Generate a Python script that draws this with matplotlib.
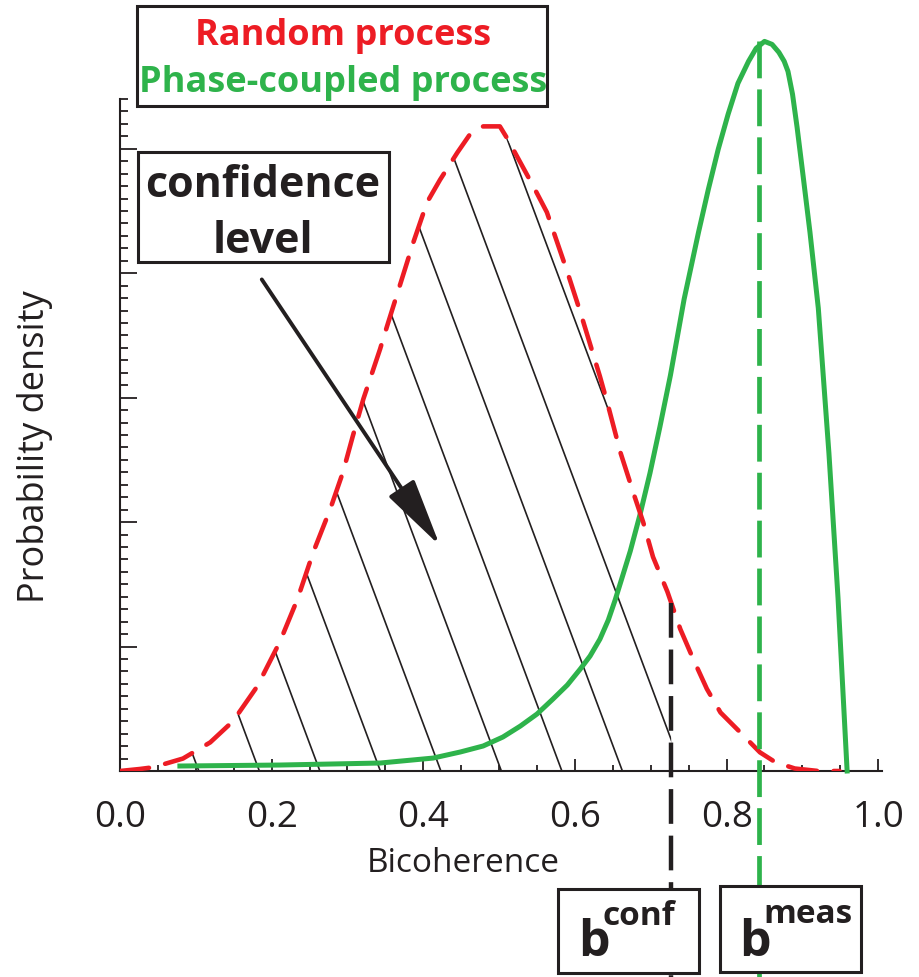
import numpy as np
import matplotlib
matplotlib.use('Agg')
import matplotlib.pyplot as plt
from matplotlib.patches import Rectangle, Polygon
from matplotlib.ticker import MultipleLocator

# bicoherence / probability density
random_b = [0.0, 0.026, 0.044, 0.083, 0.119, 0.149, 0.181, 0.211, 0.234, 0.255,
            0.277, 0.294, 0.307, 0.321, 0.343, 0.352, 0.369, 0.387, 0.405, 0.422,
            0.445, 0.462, 0.479, 0.501, 0.511, 0.528, 0.545, 0.563, 0.590, 0.607,
            0.633, 0.644, 0.660, 0.679, 0.690, 0.703, 0.722, 0.739, 0.756, 0.774,
            0.792, 0.819, 0.844, 0.864, 0.890, 0.921, 0.949]
random_pdf = [0.0, 0.016, 0.03, 0.10, 0.23, 0.40, 0.68, 1.04, 1.38, 1.76,
              2.10, 2.40, 2.69, 2.99, 3.39, 3.57, 3.90, 4.25, 4.57, 4.75,
              4.97, 5.12, 5.18, 5.18, 5.08, 4.89, 4.70, 4.49, 4.01, 3.69,
              3.17, 2.93, 2.56, 2.20, 2.00, 1.72, 1.44, 1.14, 0.90, 0.66,
              0.47, 0.305, 0.15, 0.072, 0.02, 0.0, 0.0]

# same for the phase-coupled process
coupled_b = [0.079, 0.211, 0.343, 0.413, 0.449, 0.479, 0.505, 0.528, 0.550, 0.571,
             0.590, 0.607, 0.620, 0.633, 0.644, 0.653, 0.662, 0.673, 0.686, 0.699,
             0.712, 0.726, 0.744, 0.763, 0.776, 0.789, 0.802, 0.815, 0.829, 0.839,
             0.850, 0.860, 0.869, 0.876, 0.881, 0.887, 0.893, 0.901, 0.910, 0.921,
             0.935, 0.947, 0.959]
coupled_pdf = [0.04, 0.048, 0.064, 0.104, 0.153, 0.201, 0.273, 0.361, 0.458, 0.578,
               0.691, 0.819, 0.924, 1.060, 1.213, 1.373, 1.550, 1.767, 2.064, 2.394,
               2.763, 3.181, 3.791, 4.329, 4.675, 4.996, 5.277, 5.526, 5.703, 5.807,
               5.863, 5.839, 5.775, 5.703, 5.622, 5.438, 5.173, 4.779, 4.329, 3.719,
               2.554, 1.390, 0.0]

b_conf = 0.727
b_meas = 0.843

xtick_values = [0.0, 0.2, 0.4, 0.6, 0.8, 1.0]
xtick_labels = ['0.0', '0.2', '0.4', '0.6', '0.8', '1.0']

RED = '#ED1C24'
GREEN = '#2EB34B'
INK = '#231F20'
W, H = 919, 978

plt.rcParams['font.family'] = ['Open Sans', 'DejaVu Sans']
plt.rcParams['lines.scale_dashes'] = False

fig = plt.figure(figsize=(W / 100, H / 100), dpi=100)
ax = fig.add_axes([120 / W, 206 / H, 762 / W, 672 / H])
ax.set_xlim(0, 1.005)
ax.set_ylim(0, 5.4)

for side in ['top', 'right']:
    ax.spines[side].set_visible(False)
for side in ['left', 'bottom']:
    ax.spines[side].set_linewidth(1.5)
    ax.spines[side].set_color(INK)

ax.set_xticks(xtick_values)
ax.set_xticklabels(xtick_labels)
ax.xaxis.set_minor_locator(MultipleLocator(0.05))
ax.yaxis.set_major_locator(MultipleLocator(1))
ax.yaxis.set_minor_locator(MultipleLocator(0.1))
ax.tick_params(axis='x', which='major', direction='in', length=9, width=1.3,
               pad=20, labelsize=26.5, color=INK, labelcolor=INK)
ax.tick_params(axis='x', which='minor', direction='in', length=4.5, width=1.3, color=INK)
ax.tick_params(axis='y', which='major', direction='in', length=12, width=1.3,
               labelleft=False, color=INK)
ax.tick_params(axis='y', which='minor', direction='in', length=6, width=1.3, color=INK)

ax.set_xlabel('Bicoherence', fontsize=24, color=INK, va='baseline')
ax.xaxis.set_label_coords(0.451, -0.149)
ax.set_ylabel('Probability density', fontsize=26, color=INK, va='center', ha='center')
ax.yaxis.set_label_coords(-0.1115, 0.4836)

# hatched area under the random curve up to the confidence level
y_conf = np.interp(b_conf, random_b, random_pdf)
verts = [(b, p) for b, p in zip(random_b, random_pdf) if b < b_conf]
verts += [(b_conf, y_conf), (b_conf, 0)]
region = Polygon(verts, closed=True, facecolor='none', edgecolor='none',
                 transform=ax.transData)
ax.add_patch(region)

hatch_slope = 16.3
for x0 in np.arange(0.104, 0.84, 0.0798):
    line, = ax.plot([x0 - 6 / hatch_slope, x0], [6, 0], color=INK, lw=1.2, zorder=2)
    line.set_clip_path(region)

ax.plot(coupled_b, coupled_pdf, color=GREEN, lw=3.6, clip_on=False, zorder=3)
ax.plot(random_b, random_pdf, color=RED, lw=3.3, dashes=(21, 12),
        dash_capstyle='round', zorder=4)

# threshold and measured value, running down past the axis
ax.plot([b_conf, b_conf], [y_conf, -1.8], color=INK, lw=3.2, dashes=(25, 8.5),
        clip_on=False, zorder=5)
ax.plot([b_meas, b_meas], [max(coupled_pdf), -1.8], color=GREEN, lw=3.4,
        dashes=(26.5, 8), clip_on=False, zorder=5)

ax.annotate('', xy=(0.422, 1.81), xytext=(0.187, 3.95),
            arrowprops=dict(arrowstyle='-|>,head_length=1.7,head_width=0.38',
                            mutation_scale=25, lw=2.8, color=INK,
                            shrinkA=0, shrinkB=0), zorder=6)


def box(x0, y0, x1, y1):
    rect = Rectangle((x0 / W, 1 - y1 / H), (x1 - x0) / W, (y1 - y0) / H,
                     transform=fig.transFigure, facecolor='white',
                     edgecolor=INK, lw=2.2, zorder=2)
    fig.add_artist(rect)


def label(x, y, s, size, color=INK, ha='center'):
    fig.text(x / W, 1 - y / H, s, fontsize=size, fontweight='bold',
             color=color, ha=ha, va='baseline', zorder=3)


box(137, 7, 547, 107)
label(343, 45, 'Random process', 26, RED)
label(343, 92, 'Phase-coupled process', 26, GREEN)

box(138, 153, 389, 263)
label(263, 197, 'confidence', 31)
label(263, 253, 'level', 31)

box(558, 890, 699, 974)
label(578, 956, 'b', 36, ha='left')
label(603, 925, 'conf', 24, ha='left')

box(720, 887, 861, 973)
label(739, 956, 'b', 36, ha='left')
label(763, 923, 'meas', 24, ha='left')

fig.savefig('out.png', dpi=100, facecolor='white')
